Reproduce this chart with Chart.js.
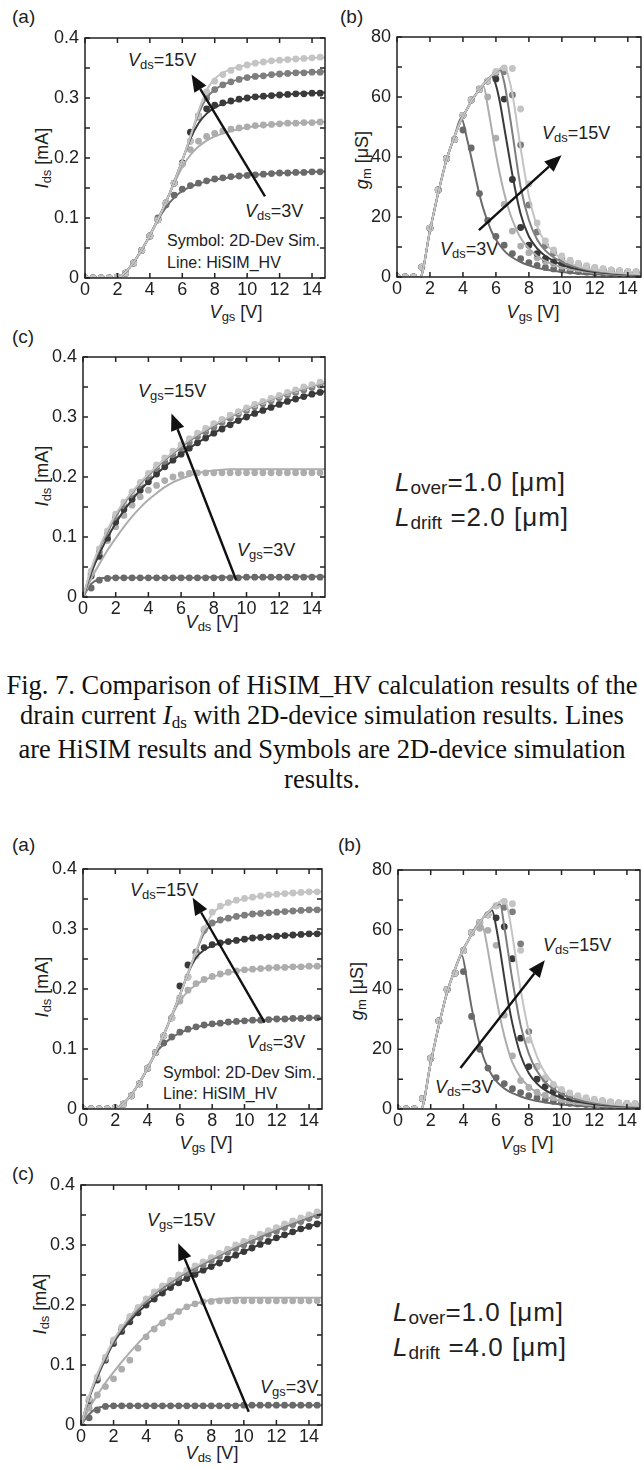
<!DOCTYPE html>
<html>
<head>
<meta charset="utf-8">
<script src="https://cdn.jsdelivr.net/npm/chart.js@4.4.1/dist/chart.umd.min.js"></script>
<style>
  body { margin: 0; background: #fff; width: 644px; height: 1470px; position: relative; overflow: hidden;
         font-family: "Liberation Sans", Arial, sans-serif; color: #222; }
  canvas { position: absolute; }
  .t { position: absolute; white-space: nowrap; font-size: 18px; line-height: 1; transform: translateY(-50%); }
  .c { transform: translate(-50%, -50%); }
  .r { transform: translate(-50%, -50%) rotate(-90deg); }
  .s { font-size: 13px; position: relative; top: 3px; }
  .sm { font-size: 16px; }
  .lab { font-size: 19px; }
  .big { font-size: 26px; letter-spacing: 1px; line-height: 33px; transform: none; }
  .big .s { font-size: 19px; top: 3px; letter-spacing: 0; }
  #cap { position: absolute; left: 0; width: 644px; top: 670px; text-align: center; white-space: nowrap;
         font-family: "Liberation Serif", "Times New Roman", serif; font-size: 26.5px; line-height: 30px; color: #111; }
  #cap .cs { font-size: 17px; position: relative; top: 4px; }
</style>
</head>
<body>

<!-- panel letters -->
<div class="t lab" style="left:12px;top:16px">(a)</div>
<div class="t lab" style="left:340px;top:16px">(b)</div>
<div class="t lab" style="left:12px;top:336px">(c)</div>
<div class="t lab" style="left:12px;top:844px">(a)</div>
<div class="t lab" style="left:338px;top:844px">(b)</div>
<div class="t lab" style="left:12px;top:1173px">(c)</div>

<!-- axis titles -->
<div class="t c" style="left:236px;top:312px"><i>V</i><span class="s">gs</span> [V]</div>
<div class="t r" style="left:42px;top:158px"><i>I</i><span class="s">ds</span> [mA]</div>
<div class="t c" style="left:533px;top:312px"><i>V</i><span class="s">gs</span> [V]</div>
<div class="t r" style="left:362px;top:160px"><i>g</i><span class="s">m</span> [μS]</div>
<div class="t c" style="left:212px;top:622px"><i>V</i><span class="s">ds</span> [V]</div>
<div class="t r" style="left:42px;top:476px"><i>I</i><span class="s">ds</span> [mA]</div>

<div class="t c" style="left:206px;top:1143px"><i>V</i><span class="s">gs</span> [V]</div>
<div class="t r" style="left:42px;top:987px"><i>I</i><span class="s">ds</span> [mA]</div>
<div class="t c" style="left:527px;top:1143px"><i>V</i><span class="s">gs</span> [V]</div>
<div class="t r" style="left:357px;top:991px"><i>g</i><span class="s">m</span> [μS]</div>
<div class="t c" style="left:212px;top:1453px"><i>V</i><span class="s">ds</span> [V]</div>
<div class="t r" style="left:40px;top:1304px"><i>I</i><span class="s">ds</span> [mA]</div>

<!-- annotations -->
<div class="t" style="left:128px;top:60px"><i>V</i><span class="s">ds</span>=15V</div>
<div class="t" style="left:245px;top:211px"><i>V</i><span class="s">ds</span>=3V</div>
<div class="t sm" style="left:167px;top:241px">Symbol: 2D-Dev Sim.</div>
<div class="t sm" style="left:167px;top:263px">Line: HiSIM_HV</div>
<div class="t" style="left:542px;top:133px"><i>V</i><span class="s">ds</span>=15V</div>
<div class="t" style="left:440px;top:249px"><i>V</i><span class="s">ds</span>=3V</div>
<div class="t" style="left:138px;top:391px"><i>V</i><span class="s">gs</span>=15V</div>
<div class="t" style="left:237px;top:550px"><i>V</i><span class="s">gs</span>=3V</div>

<div class="t" style="left:130px;top:890px"><i>V</i><span class="s">ds</span>=15V</div>
<div class="t" style="left:247px;top:1042px"><i>V</i><span class="s">ds</span>=3V</div>
<div class="t sm" style="left:163px;top:1073px">Symbol: 2D-Dev Sim.</div>
<div class="t sm" style="left:163px;top:1094px">Line: HiSIM_HV</div>
<div class="t" style="left:543px;top:945px"><i>V</i><span class="s">ds</span>=15V</div>
<div class="t" style="left:435px;top:1087px"><i>V</i><span class="s">ds</span>=3V</div>
<div class="t" style="left:147px;top:1220px"><i>V</i><span class="s">gs</span>=15V</div>
<div class="t" style="left:260px;top:1387px"><i>V</i><span class="s">gs</span>=3V</div>

<!-- device sizes -->
<div class="t big" style="left:395px;top:466px"><i>L</i><span class="s">over</span>=1.0 [μm]<br><i>L</i><span class="s">drift</span> =2.0 [μm]</div>
<div class="t big" style="left:393px;top:1296px"><i>L</i><span class="s">over</span>=1.0 [μm]<br><i>L</i><span class="s">drift</span> =4.0 [μm]</div>

<div id="cap">Fig. 7. Comparison of HiSIM_HV calculation results of the<br>drain current <i>I</i><span class="cs">ds</span> with 2D-device simulation results. Lines<br>are HiSIM results and Symbols are 2D-device simulation<br>results.</div>

<script>
// x grid of the symbols / Ids lines (V)
const VX = [0,0.5,1,1.5,2,2.5,3,3.5,4,4.5,5,5.5,6,6.5,7,7.5,8,8.5,9,9.5,10,10.5,11,11.5,12,12.5,13,13.5,14,14.5,15];
// x grid of the gm lines (V)
const GX = [0,1,1.4,2,2.5,3,3.5,3.9,4.25,4.5,5,5.25,5.5,5.75,6,6.25,6.5,6.75,7,7.5,8,8.5,9,10,11,12,13,14,15];

// ---- Ldrift = 2.0 um ----
// (a) Ids [mA] vs Vgs, Vds = 3,6,9,12,15 V
const ids1S3  = [0,0,0,0,0.002,0.008,0.025,0.046,0.07,0.1,0.122,0.138,0.148,0.154,0.158,0.162,0.165,0.167,0.169,0.17,0.171,0.172,0.173,0.174,0.175,0.175,0.176,0.176,0.177,0.177,0.178];
const ids1S6  = [0,0,0,0,0.002,0.008,0.025,0.046,0.07,0.097,0.125,0.158,0.19,0.214,0.228,0.236,0.241,0.245,0.248,0.25,0.252,0.254,0.255,0.256,0.257,0.258,0.258,0.259,0.259,0.26,0.26];
const ids1S9  = [0,0,0,0,0.002,0.008,0.025,0.046,0.07,0.097,0.125,0.158,0.192,0.243,0.27,0.282,0.288,0.292,0.295,0.298,0.3,0.302,0.303,0.304,0.305,0.306,0.307,0.307,0.308,0.308,0.309];
const ids1S12 = [0,0,0,0,0.002,0.008,0.025,0.046,0.07,0.097,0.125,0.158,0.19,0.228,0.268,0.3,0.314,0.322,0.327,0.331,0.334,0.336,0.337,0.339,0.34,0.341,0.342,0.342,0.343,0.343,0.344];
const ids1S15 = [0,0,0,0,0.002,0.008,0.025,0.046,0.07,0.097,0.125,0.158,0.19,0.228,0.27,0.31,0.328,0.339,0.346,0.351,0.355,0.358,0.36,0.362,0.363,0.364,0.365,0.366,0.367,0.368,0.368];
const ids1L3  = [0,0,0,0,0,0.01,0.026,0.047,0.071,0.097,0.118,0.134,0.145,0.152,0.157,0.161,0.164,0.166,0.168,0.17,0.171,0.172,0.173,0.174,0.175,0.175,0.176,0.176,0.177,0.177,0.178];
const ids1L6  = [0,0,0,0,0,0.01,0.026,0.047,0.071,0.098,0.127,0.158,0.185,0.205,0.219,0.229,0.236,0.241,0.245,0.248,0.251,0.253,0.254,0.256,0.257,0.258,0.258,0.259,0.259,0.26,0.26];
const ids1L9  = [0,0,0,0,0,0.01,0.026,0.047,0.071,0.098,0.127,0.16,0.196,0.232,0.258,0.274,0.284,0.29,0.294,0.297,0.3,0.302,0.303,0.304,0.305,0.306,0.307,0.308,0.308,0.309,0.309];
const ids1L12 = [0,0,0,0,0,0.01,0.026,0.047,0.071,0.098,0.127,0.16,0.196,0.235,0.274,0.3,0.314,0.322,0.327,0.331,0.334,0.336,0.337,0.339,0.34,0.341,0.342,0.343,0.343,0.344,0.344];
const ids1L15 = [0,0,0,0,0,0.01,0.026,0.047,0.071,0.098,0.127,0.16,0.196,0.236,0.278,0.313,0.332,0.342,0.348,0.352,0.355,0.358,0.36,0.362,0.363,0.364,0.365,0.366,0.367,0.367,0.368];

// (b) gm [uS] vs Vgs
const gm1S3  = [0,0,0,3.3,16.3,29,39.5,45.8,49,43,27.8,18.9,13.5,10.6,7.8,6.1,4.8,3.9,3.2,2.7,2.3,2,1.8,1.6,1.4,1.3,1.2,1.1,1,0.9,0.9];
const gm1S6  = [0,0,0,3.3,16.3,29,39.5,45.8,53.9,59,62.8,60,46.3,24.2,15.3,10.3,8.1,6.4,5.2,4.3,3.6,3.1,2.7,2.4,2.1,1.9,1.7,1.5,1.4,1.3,1.2];
const gm1S9  = [0,0,0,3.3,16.3,29,39.5,45.8,53.9,59,62.5,65.3,66,59.3,32.5,16.5,10.6,7.8,6.1,5,4.2,3.6,3.1,2.7,2.4,2.1,1.9,1.7,1.6,1.5,1.4];
const gm1S12 = [0,0,0,3.3,16.3,29,39.5,45.8,53.9,59,62.5,65.3,68,68.5,60.7,44,24,15,10.5,8,6.3,5.1,4.2,3.5,3,2.6,2.3,2,1.8,1.7,1.6];
const gm1S15 = [0,0,0,3.3,16.3,29,39.5,45.8,53.9,59,62.5,65.3,68.5,69.7,69.5,56,31,18,12,9,7,5.6,4.6,3.8,3.2,2.8,2.4,2.1,1.9,1.8,1.7];
const gm1L3  = [0,0,0,15.5,28,39,47,53,46,40,27.5,22.5,18.5,15,12.5,10.5,8.8,7.5,6.5,5,3.9,3.1,2.5,1.7,1.2,0.9,0.7,0.55,0.45];
const gm1L6  = [0,0,0,15.5,28,39,47,52.5,56,58.5,62.5,63.5,57,49,41,34,28,23,19,13,9.5,7,5.3,3.2,2.1,1.4,1,0.75,0.6];
const gm1L9  = [0,0,0,15.5,28,39,47,52.5,56,58.5,62.5,64.3,65.8,67,64,58,50,42,34,21,13.5,9.5,7,4.1,2.6,1.7,1.2,0.9,0.7];
const gm1L12 = [0,0,0,15.5,28,39,47,52.5,56,58.5,62.5,64.3,65.8,67.2,68.4,69,65,57,48,30,19,12.5,8.8,5,3.1,2,1.4,1.05,0.8];
const gm1L15 = [0,0,0,15.5,28,39,47,52.5,56,58.5,62.5,64.3,65.8,67.2,68.4,69.5,70.4,67,61,43,27,17,11.5,6,3.6,2.3,1.6,1.2,0.9];

// (c) Ids [mA] vs Vds, Vgs = 3 ... 15 V
const idv1S3  = [0,0.015,0.028,0.031,0.032,0.032,0.032,0.032,0.032,0.032,0.032,0.032,0.032,0.032,0.032,0.032,0.032,0.032,0.032,0.032,0.033,0.033,0.033,0.033,0.033,0.033,0.033,0.033,0.033,0.033,0.033];
const idv1S6  = [0,0.038,0.067,0.094,0.117,0.136,0.153,0.167,0.178,0.186,0.194,0.2,0.204,0.206,0.207,0.207,0.207,0.207,0.207,0.207,0.207,0.207,0.207,0.207,0.207,0.207,0.207,0.207,0.207,0.207,0.207];
const idv1S9  = [0,0.035,0.068,0.098,0.125,0.146,0.163,0.178,0.192,0.205,0.217,0.228,0.238,0.248,0.257,0.265,0.273,0.28,0.287,0.294,0.3,0.306,0.311,0.316,0.321,0.326,0.33,0.334,0.338,0.341,0.344];
const idv1S12 = [0,0.04,0.075,0.105,0.133,0.152,0.17,0.186,0.2,0.214,0.226,0.237,0.248,0.258,0.267,0.275,0.283,0.291,0.298,0.305,0.311,0.317,0.322,0.327,0.332,0.337,0.341,0.345,0.349,0.353,0.356];
const idv1S15 = [0,0.043,0.08,0.11,0.138,0.158,0.175,0.191,0.206,0.22,0.232,0.243,0.254,0.264,0.273,0.281,0.289,0.296,0.303,0.309,0.315,0.321,0.326,0.331,0.336,0.341,0.345,0.35,0.354,0.358,0.362];
const idv1L3  = [0,0.022,0.03,0.032,0.032,0.032,0.032,0.032,0.032,0.032,0.032,0.032,0.032,0.032,0.032,0.033,0.033,0.033,0.033,0.033,0.033,0.033,0.033,0.033,0.033,0.033,0.034,0.034,0.034,0.034,0.034];
const idv1L6  = [0,0.03,0.055,0.078,0.098,0.117,0.134,0.149,0.162,0.173,0.183,0.191,0.197,0.202,0.206,0.209,0.211,0.212,0.213,0.213,0.213,0.213,0.213,0.213,0.213,0.213,0.213,0.213,0.213,0.213,0.213];
const idv1L9  = [0,0.04,0.072,0.099,0.123,0.144,0.162,0.178,0.192,0.205,0.217,0.228,0.238,0.248,0.257,0.265,0.273,0.281,0.288,0.294,0.3,0.306,0.311,0.316,0.321,0.326,0.33,0.334,0.338,0.341,0.344];
const idv1L12 = [0,0.045,0.08,0.108,0.134,0.155,0.173,0.189,0.203,0.216,0.228,0.239,0.25,0.26,0.269,0.277,0.285,0.293,0.3,0.307,0.313,0.319,0.324,0.329,0.334,0.339,0.343,0.347,0.351,0.355,0.358];
const idv1L15 = [0,0.047,0.083,0.112,0.138,0.158,0.175,0.191,0.205,0.218,0.23,0.241,0.252,0.262,0.271,0.279,0.287,0.294,0.301,0.308,0.314,0.32,0.325,0.33,0.335,0.34,0.344,0.348,0.352,0.356,0.36];

// ---- Ldrift = 4.0 um ----
const ids2S3  = [0,0,0,0,0.002,0.008,0.022,0.042,0.068,0.094,0.11,0.12,0.128,0.133,0.137,0.14,0.142,0.143,0.145,0.146,0.147,0.148,0.148,0.149,0.15,0.15,0.151,0.151,0.152,0.152,0.152];
const ids2S6  = [0,0,0,0,0.002,0.008,0.022,0.042,0.068,0.094,0.122,0.152,0.18,0.198,0.209,0.216,0.221,0.225,0.228,0.23,0.232,0.233,0.234,0.235,0.236,0.236,0.237,0.237,0.238,0.238,0.239];
const ids2S9  = [0,0,0,0,0.002,0.008,0.022,0.042,0.068,0.094,0.122,0.152,0.205,0.24,0.261,0.269,0.274,0.277,0.279,0.281,0.283,0.285,0.286,0.287,0.288,0.289,0.29,0.291,0.292,0.292,0.293];
const ids2S12 = [0,0,0,0,0.002,0.008,0.022,0.042,0.068,0.094,0.122,0.152,0.185,0.22,0.262,0.298,0.31,0.315,0.318,0.321,0.323,0.325,0.326,0.327,0.328,0.329,0.33,0.331,0.332,0.332,0.333];
const ids2S15 = [0,0,0,0,0.002,0.008,0.022,0.042,0.068,0.094,0.122,0.152,0.185,0.22,0.255,0.3,0.328,0.338,0.344,0.348,0.351,0.353,0.355,0.357,0.358,0.359,0.36,0.361,0.362,0.362,0.363];
const ids2L3  = [0,0,0,0,0,0.009,0.024,0.044,0.068,0.093,0.108,0.119,0.127,0.132,0.136,0.139,0.141,0.143,0.144,0.146,0.147,0.148,0.148,0.149,0.15,0.15,0.151,0.151,0.152,0.152,0.152];
const ids2L6  = [0,0,0,0,0,0.009,0.024,0.044,0.068,0.095,0.124,0.155,0.18,0.196,0.207,0.215,0.22,0.224,0.227,0.23,0.232,0.233,0.234,0.235,0.236,0.236,0.237,0.237,0.238,0.238,0.239];
const ids2L9  = [0,0,0,0,0,0.009,0.024,0.044,0.068,0.095,0.124,0.156,0.19,0.226,0.252,0.265,0.272,0.276,0.279,0.281,0.283,0.285,0.286,0.287,0.288,0.289,0.29,0.291,0.292,0.292,0.293];
const ids2L12 = [0,0,0,0,0,0.009,0.024,0.044,0.068,0.095,0.124,0.156,0.19,0.226,0.262,0.293,0.308,0.314,0.318,0.321,0.323,0.325,0.326,0.327,0.328,0.329,0.33,0.331,0.332,0.332,0.333];
const ids2L15 = [0,0,0,0,0,0.009,0.024,0.044,0.068,0.095,0.124,0.156,0.19,0.226,0.263,0.3,0.325,0.337,0.343,0.347,0.35,0.353,0.355,0.357,0.358,0.359,0.36,0.361,0.362,0.362,0.363];

const gm2S3  = [0,0,0,3.5,17,29.5,40,45.5,46,31,20,13.7,10.5,8.5,6.8,5.5,4.5,3.7,3.1,2.6,2.2,1.9,1.7,1.5,1.3,1.2,1.1,1,0.9,0.9,0.8];
const gm2S6  = [0,0,0,3.5,17,29.5,40,45.5,53,59,60.5,59.8,54.8,31.4,17.8,9.5,7.2,5.6,4.6,3.8,3.2,2.8,2.4,2.1,1.9,1.7,1.5,1.4,1.3,1.2,1.1];
const gm2S9  = [0,0,0,3.5,17,29.5,40,45.5,53,59,62.5,65,64,61,50.3,23.7,14.2,10,7.5,5.9,4.8,4,3.4,2.9,2.5,2.2,1.9,1.7,1.6,1.5,1.4];
const gm2S12 = [0,0,0,3.5,17,29.5,40,45.5,53,59,62.5,65,68,67.5,66,55.3,25.9,14.2,10,7.6,6,4.9,4.1,3.5,3,2.6,2.3,2,1.8,1.7,1.6];
const gm2S15 = [0,0,0,3.5,17,29.5,40,45.5,53,59,62.5,65,68,69.5,68.7,53.1,23.1,14,10.5,8.2,6.6,5.4,4.5,3.8,3.3,2.9,2.5,2.2,2,1.9,1.8];
const gm2L3  = [0,0,0,15.5,28,39,47,51.5,42,34,21.5,17,13.8,11.3,9.4,8,6.9,6,5.3,4.2,3.3,2.7,2.2,1.5,1.05,0.8,0.6,0.45,0.35];
const gm2L6  = [0,0,0,15.5,28,39,47,52.5,56,58.5,62.5,60,53,45,37.5,30.5,24.5,19.5,15.5,10.5,7.5,5.5,4.2,2.6,1.7,1.2,0.9,0.65,0.5];
const gm2L9  = [0,0,0,15.5,28,39,47,52.5,56,58.5,62.5,64.3,65.8,66.5,61,53,44,35.5,28.5,18,12,8.5,6.3,3.7,2.4,1.6,1.15,0.85,0.65];
const gm2L12 = [0,0,0,15.5,28,39,47,52.5,56,58.5,62.5,64.3,65.8,67.2,68.4,68.5,61,52,43,28,18.5,12.7,9,5,3.1,2,1.4,1.05,0.8];
const gm2L15 = [0,0,0,15.5,28,39,47,52.5,56,58.5,62.5,64.3,65.8,67.2,68.4,69.5,70.4,66,58,40,26,17.5,12,6.3,3.8,2.5,1.7,1.25,1];

const idv2S3  = [0,0.012,0.025,0.031,0.032,0.032,0.032,0.032,0.032,0.032,0.032,0.032,0.032,0.032,0.032,0.032,0.032,0.032,0.032,0.032,0.033,0.033,0.033,0.033,0.033,0.033,0.033,0.033,0.033,0.033,0.034];
const idv2S6  = [0,0.028,0.05,0.064,0.077,0.093,0.108,0.128,0.147,0.16,0.17,0.18,0.189,0.197,0.202,0.205,0.206,0.207,0.207,0.207,0.207,0.207,0.207,0.207,0.207,0.207,0.207,0.207,0.207,0.207,0.207];
const idv2S9  = [0,0.04,0.075,0.108,0.136,0.156,0.172,0.187,0.2,0.21,0.22,0.229,0.237,0.244,0.251,0.258,0.264,0.27,0.277,0.283,0.289,0.295,0.301,0.306,0.312,0.317,0.322,0.327,0.331,0.335,0.339];
const idv2S12 = [0,0.042,0.078,0.11,0.139,0.16,0.177,0.192,0.206,0.217,0.227,0.236,0.245,0.253,0.26,0.267,0.274,0.281,0.288,0.294,0.3,0.306,0.312,0.318,0.323,0.329,0.334,0.339,0.344,0.349,0.353];
const idv2S15 = [0,0.044,0.08,0.113,0.142,0.163,0.181,0.196,0.21,0.222,0.232,0.241,0.25,0.258,0.265,0.272,0.279,0.286,0.293,0.3,0.306,0.312,0.318,0.324,0.329,0.335,0.34,0.345,0.35,0.355,0.359];
const idv2L3  = [0,0.018,0.028,0.031,0.032,0.032,0.032,0.032,0.032,0.032,0.032,0.032,0.032,0.032,0.032,0.032,0.032,0.032,0.033,0.033,0.033,0.033,0.033,0.033,0.033,0.033,0.033,0.033,0.033,0.033,0.033];
const idv2L6  = [0,0.028,0.05,0.07,0.088,0.105,0.121,0.136,0.15,0.162,0.173,0.182,0.19,0.197,0.202,0.206,0.208,0.21,0.211,0.212,0.212,0.212,0.212,0.212,0.212,0.212,0.212,0.212,0.212,0.212,0.212];
const idv2L9  = [0,0.045,0.08,0.11,0.137,0.157,0.173,0.188,0.2,0.211,0.221,0.23,0.238,0.245,0.252,0.258,0.264,0.271,0.277,0.283,0.289,0.295,0.301,0.306,0.311,0.316,0.321,0.326,0.331,0.335,0.339];
const idv2L12 = [0,0.047,0.083,0.113,0.14,0.161,0.178,0.193,0.206,0.218,0.228,0.237,0.246,0.254,0.261,0.268,0.275,0.282,0.289,0.295,0.301,0.307,0.313,0.319,0.324,0.33,0.335,0.34,0.345,0.35,0.354];
const idv2L15 = [0,0.048,0.085,0.115,0.142,0.163,0.181,0.196,0.209,0.221,0.231,0.24,0.249,0.257,0.264,0.271,0.278,0.285,0.292,0.299,0.305,0.311,0.317,0.323,0.328,0.334,0.339,0.344,0.349,0.354,0.358];

// arrows: tail x, tail y, head x, head y (data units)
const arrow1a = [11.1, 0.136, 6.57, 0.339];
const arrow1b = [4.97, 15.6, 9.98, 40.6];
const arrow1c = [9.37, 0.028, 5.41, 0.306];
const arrow2a = [11.25, 0.144, 6.79, 0.352];
const arrow2b = [3.82, 13.7, 8.98, 49.8];
const arrow2c = [10.3, 0.022, 5.97, 0.303];

// grey levels per bias curve
const C3 = '#6a6a6a', C6 = '#adadad', C9 = '#3a3a3a', C12 = '#7e7e7e', C15 = '#c4c4c4';
const XMAX = 14.8;

const pts = (xs, ys) => ys.map((v, i) => ({ x: xs[i], y: v }));
const sym = (ys, c) => ({ data: pts(VX, ys), showLine: false, pointRadius: 3.4, pointBorderWidth: 0,
  pointBackgroundColor: c, borderColor: c, order: 1 });
const crv = (xs, ys, c) => ({ data: pts(xs, ys), borderColor: c, borderWidth: 2, pointRadius: 0,
  cubicInterpolationMode: 'monotone', fill: false, order: 0 });

// box, inward ticks on all four sides, and the arrow
const frame = {
  id: 'frame',
  afterDatasetsDraw(chart, args, opts) {
    const { ctx, chartArea: a, scales: { x, y } } = chart;
    ctx.save();
    ctx.strokeStyle = '#222';
    ctx.lineWidth = 1.5;
    ctx.beginPath();
    x.ticks.forEach(t => {
      const p = x.getPixelForValue(t.value);
      ctx.moveTo(p, a.bottom); ctx.lineTo(p, a.bottom - 5);
      ctx.moveTo(p, a.top); ctx.lineTo(p, a.top + 5);
    });
    y.ticks.forEach(t => {
      const p = y.getPixelForValue(t.value);
      ctx.moveTo(a.left, p); ctx.lineTo(a.left + 5, p);
      ctx.moveTo(a.right, p); ctx.lineTo(a.right - 5, p);
    });
    ctx.stroke();
    ctx.strokeRect(a.left, a.top, a.width, a.height);

    const ar = opts.arrow;
    if (ar) {
      const x0 = x.getPixelForValue(ar[0]), y0 = y.getPixelForValue(ar[1]);
      const x1 = x.getPixelForValue(ar[2]), y1 = y.getPixelForValue(ar[3]);
      const ang = Math.atan2(y1 - y0, x1 - x0);
      const L = 17, W = 7;
      const bx = x1 - L * Math.cos(ang), by = y1 - L * Math.sin(ang);
      ctx.strokeStyle = '#111';
      ctx.fillStyle = '#111';
      ctx.lineWidth = 2.4;
      ctx.beginPath(); ctx.moveTo(x0, y0); ctx.lineTo(bx, by); ctx.stroke();
      ctx.beginPath();
      ctx.moveTo(x1, y1);
      ctx.lineTo(bx + W * Math.sin(ang), by - W * Math.cos(ang));
      ctx.lineTo(bx - W * Math.sin(ang), by + W * Math.cos(ang));
      ctx.closePath(); ctx.fill();
    }
    ctx.restore();
  }
};

const M = { l: 60, r: 6, t: 20, b: 30 };
const tickFont = { family: '"Liberation Sans", Arial, sans-serif', size: 18 };

function panel(area, yMax, yStep, labelEvery, fmt, datasets, arrow) {
  const c = document.createElement('canvas');
  c.width = area[1] - area[0] + M.l + M.r;
  c.height = area[3] - area[2] + M.t + M.b;
  c.style.left = (area[0] - M.l) + 'px';
  c.style.top = (area[2] - M.t) + 'px';
  document.body.appendChild(c);
  new Chart(c, {
    type: 'line',
    data: { datasets },
    plugins: [frame],
    options: {
      responsive: false, animation: false, events: [],
      layout: { padding: { left: 0, right: M.r, top: M.t, bottom: 0 } },
      plugins: { legend: { display: false }, tooltip: { enabled: false }, frame: { arrow } },
      scales: {
        x: {
          type: 'linear', min: 0, max: XMAX,
          afterFit: s => { s.height = M.b; },
          grid: { display: false, drawTicks: false }, border: { display: false },
          ticks: { stepSize: 2, includeBounds: false, autoSkip: false, maxRotation: 0, padding: 1,
                   font: tickFont, color: '#222' }
        },
        y: {
          type: 'linear', min: 0, max: yMax,
          afterFit: s => { s.width = M.l; },
          grid: { display: false, drawTicks: false }, border: { display: false },
          ticks: { stepSize: yStep, includeBounds: false, autoSkip: false, padding: 6,
                   font: tickFont, color: '#222',
                   callback: v => (Math.round(v / yStep) % labelEvery === 0 ? fmt(v) : '') }
        }
      }
    }
  });
}

const fmtI = v => (v === 0 ? '0' : v.toFixed(1));
const fmtG = v => String(Math.round(v));

// highest bias first so that it is painted on top
const idsSet = (s, l) => [
  crv(VX, l[4], C15), crv(VX, l[3], C12), crv(VX, l[2], C9), crv(VX, l[1], C6), crv(VX, l[0], C3),
  sym(s[4], C15), sym(s[3], C12), sym(s[2], C9), sym(s[1], C6), sym(s[0], C3)
];
const gmSet = (s, l) => [
  crv(GX, l[4], C15), crv(GX, l[3], C12), crv(GX, l[2], C9), crv(GX, l[1], C6), crv(GX, l[0], C3),
  sym(s[4], C15), sym(s[3], C12), sym(s[2], C9), sym(s[1], C6), sym(s[0], C3)
];

panel([85, 325, 38, 278], 0.4, 0.05, 2, fmtI,
  idsSet([ids1S3, ids1S6, ids1S9, ids1S12, ids1S15], [ids1L3, ids1L6, ids1L9, ids1L12, ids1L15]), arrow1a);
panel([397, 641, 37, 277], 80, 10, 2, fmtG,
  gmSet([gm1S3, gm1S6, gm1S9, gm1S12, gm1S15], [gm1L3, gm1L6, gm1L9, gm1L12, gm1L15]), arrow1b);
panel([83, 325, 357, 597], 0.4, 0.05, 2, fmtI,
  idsSet([idv1S3, idv1S6, idv1S9, idv1S12, idv1S15], [idv1L3, idv1L6, idv1L9, idv1L12, idv1L15]), arrow1c);

panel([83, 322, 869, 1109], 0.4, 0.05, 2, fmtI,
  idsSet([ids2S3, ids2S6, ids2S9, ids2S12, ids2S15], [ids2L3, ids2L6, ids2L9, ids2L12, ids2L15]), arrow2a);
panel([398, 640, 870, 1109], 80, 10, 2, fmtG,
  gmSet([gm2S3, gm2S6, gm2S9, gm2S12, gm2S15], [gm2L3, gm2L6, gm2L9, gm2L12, gm2L15]), arrow2b);
panel([81, 322, 1185, 1425], 0.4, 0.05, 2, fmtI,
  idsSet([idv2S3, idv2S6, idv2S9, idv2S12, idv2S15], [idv2L3, idv2L6, idv2L9, idv2L12, idv2L15]), arrow2c);
</script>
</body>
</html>
